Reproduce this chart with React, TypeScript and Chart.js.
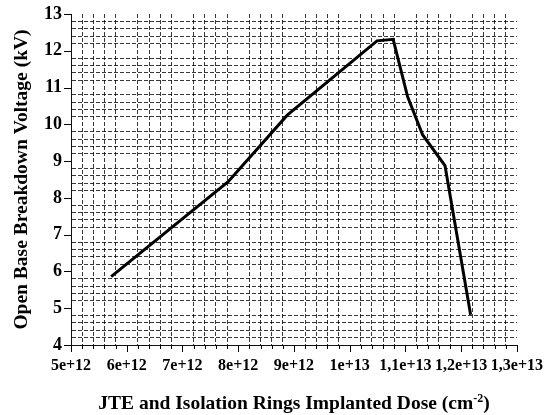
import React, { useEffect, useRef } from "react";
import { Chart, registerables } from "chart.js";

Chart.register(...registerables);

// Implanted dose (cm^-2)
const doseValues = [5.72e12, 7.82e12, 8.88e12, 10.49e12, 10.78e12, 11.04e12, 11.31e12, 11.71e12, 12.17e12];
// Open base breakdown voltage (kV)
const voltageValues = [5.86, 8.44, 10.25, 12.27, 12.31, 10.75, 9.71, 8.88, 4.82];

const xTickLabels = ["5e+12", "6e+12", "7e+12", "8e+12", "9e+12", "1e+13", "1,1e+13", "1,2e+13", "1,3e+13"];
const yTickLabels = ["4", "5", "6", "7", "8", "9", "10", "11", "12", "13"];

const X_MIN = 5e12;
const X_MAX = 1.3e13;
const X_MINOR_STEP = 2e11;
const Y_MIN = 4;
const Y_MAX = 13;
const Y_MINOR_STEP = 0.2;

const SERIF = "'Liberation Serif', serif";
const GRID_COLOR = "rgba(0,0,0,0.78)";

Chart.defaults.font.family = SERIF;
Chart.defaults.font.weight = "bold" as any;
Chart.defaults.color = "#000";

const axisDecor = {
  id: "axisDecor",
  afterDraw(chart: any) {
    const { ctx, chartArea, scales } = chart;
    const x = scales.x;
    const y = scales.y;
    ctx.save();
    ctx.strokeStyle = "#000";
    ctx.lineWidth = 1;
    ctx.setLineDash([]);
    // x tick marks: long on majors, short on minors
    x.ticks.forEach((t: any, i: number) => {
      const px = Math.round(x.getPixelForValue(t.value)) + 0.5;
      const len = i % 5 === 0 ? 7 : 4;
      ctx.beginPath();
      ctx.moveTo(px, chartArea.bottom);
      ctx.lineTo(px, chartArea.bottom + len);
      ctx.stroke();
    });
    // y tick marks: majors only
    y.ticks.forEach((t: any, i: number) => {
      if (i % 5 !== 0) return;
      const py = Math.round(y.getPixelForValue(t.value)) + 0.5;
      ctx.beginPath();
      ctx.moveTo(chartArea.left - 7, py);
      ctx.lineTo(chartArea.left, py);
      ctx.stroke();
    });
    // x axis title with superscript
    const main = "JTE and Isolation Rings Implanted Dose (cm";
    const sup = "-2";
    const close = ")";
    const mainFont = `bold 19.5px ${SERIF}`;
    const supFont = `bold 12px ${SERIF}`;
    ctx.fillStyle = "#000";
    ctx.textBaseline = "alphabetic";
    ctx.textAlign = "left";
    ctx.font = mainFont;
    const wMain = ctx.measureText(main).width;
    const wClose = ctx.measureText(close).width;
    ctx.font = supFont;
    const wSup = ctx.measureText(sup).width;
    const total = wMain + wSup + wClose;
    const cx = (chartArea.left + chartArea.right) / 2;
    const baseY = 409;
    let sx = cx - total / 2;
    ctx.font = mainFont;
    ctx.fillText(main, sx, baseY);
    sx += wMain;
    ctx.font = supFont;
    ctx.fillText(sup, sx, baseY - 7);
    sx += wSup;
    ctx.font = mainFont;
    ctx.fillText(close, sx, baseY);
    ctx.restore();
  },
};

export default function App() {
  const canvasRef = useRef<HTMLCanvasElement | null>(null);

  useEffect(() => {
    if (!canvasRef.current) return;
    const chart = new Chart(canvasRef.current, {
      type: "line",
      data: {
        datasets: [
          {
            data: doseValues.map((d, i) => ({ x: d, y: voltageValues[i] })),
            borderColor: "#000",
            borderWidth: 3,
            pointRadius: 0,
            tension: 0,
            fill: false,
            borderJoinStyle: "miter",
          },
        ],
      },
      options: {
        animation: false,
        responsive: false,
        devicePixelRatio: 1,
        layout: { padding: { top: 14, right: 26, left: 0, bottom: 0 } },
        plugins: {
          legend: { display: false },
          tooltip: { enabled: false },
          title: { display: false },
        },
        scales: {
          x: {
            type: "linear",
            min: X_MIN,
            max: X_MAX,
            afterBuildTicks: (scale: any) => {
              const n = Math.round((X_MAX - X_MIN) / X_MINOR_STEP);
              scale.ticks = Array.from({ length: n + 1 }, (_, i) => ({ value: X_MIN + i * X_MINOR_STEP }));
            },
            afterFit: (scale: any) => {
              scale.height = 70;
            },
            ticks: {
              autoSkip: false,
              maxRotation: 0,
              minRotation: 0,
              padding: 5,
              color: "#000",
              font: { family: SERIF, size: 16, weight: 700 },
              callback: (_v: any, i: number) => (i % 5 === 0 ? xTickLabels[i / 5] : ""),
            },
            grid: {
              color: (c: any) => (c.index % 5 === 0 ? "rgba(0,0,0,0)" : GRID_COLOR),
              lineWidth: 1,
              drawTicks: true,
              tickLength: 6,
              tickColor: "rgba(0,0,0,0)",
            },
            border: { display: true, color: "#111", width: 1, dash: [4, 2] },
          },
          y: {
            type: "linear",
            min: Y_MIN,
            max: Y_MAX,
            afterBuildTicks: (scale: any) => {
              const n = Math.round((Y_MAX - Y_MIN) / Y_MINOR_STEP);
              scale.ticks = Array.from({ length: n + 1 }, (_, i) => ({ value: Y_MIN + i * Y_MINOR_STEP }));
            },
            afterFit: (scale: any) => {
              scale.width = 71;
            },
            ticks: {
              autoSkip: false,
              padding: 2,
              color: "#000",
              font: { family: SERIF, size: 18, weight: 700 },
              callback: (_v: any, i: number) => (i % 5 === 0 ? yTickLabels[i / 5] : ""),
            },
            grid: {
              color: (c: any) => (c.index % 5 === 0 ? "rgba(0,0,0,0)" : GRID_COLOR),
              lineWidth: 1,
              drawTicks: true,
              tickLength: 7,
              tickColor: "rgba(0,0,0,0)",
            },
            border: { display: true, color: "#111", width: 1, dash: [4, 2] },
            title: {
              display: true,
              text: "Open Base Breakdown Voltage (kV)",
              color: "#000",
              font: { family: SERIF, size: 19.5, weight: 700 },
              padding: { top: 10, bottom: 0 },
            },
          },
        },
      },
      plugins: [axisDecor],
    } as any);
    return () => chart.destroy();
  }, []);

  return (
    <div style={{ position: "fixed", left: 0, top: 0, width: 548, height: 415, background: "#fff" }}>
      <canvas ref={canvasRef} width={548} height={415} style={{ display: "block" }} />
    </div>
  );
}
